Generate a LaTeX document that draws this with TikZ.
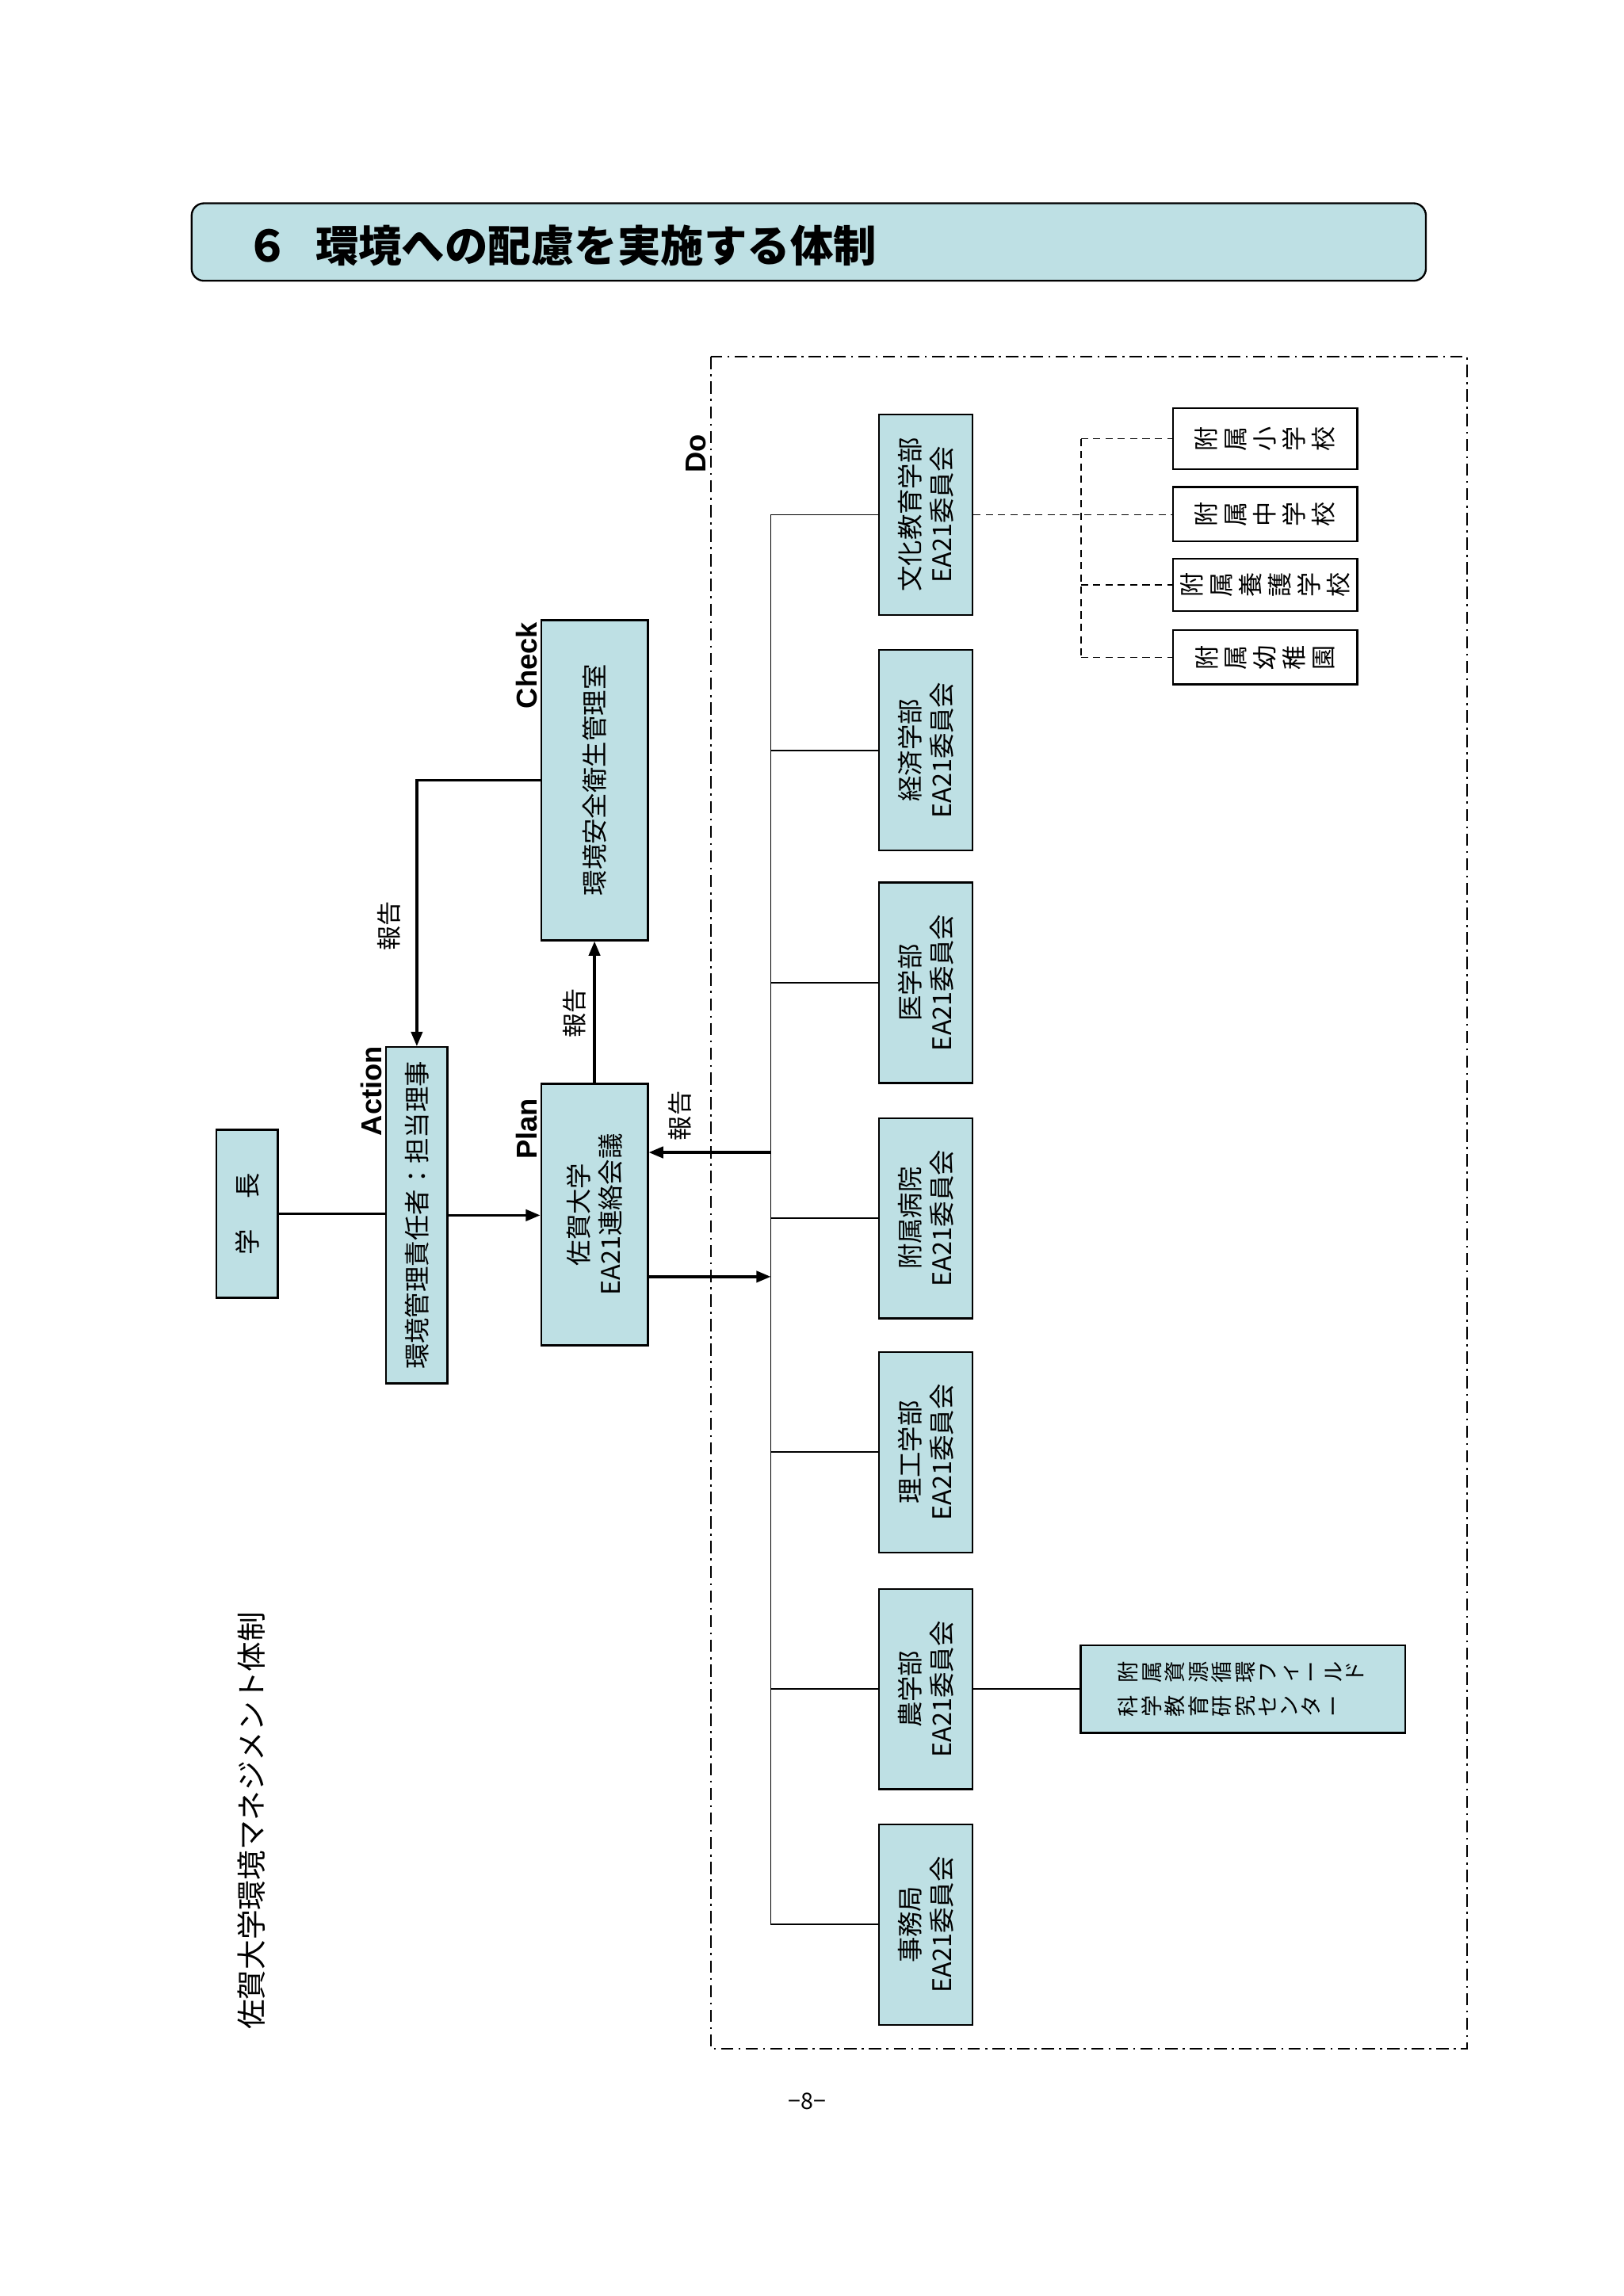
\documentclass[tikz,border=0pt]{standalone}
\usepackage{fontspec}
\setmainfont{Noto Sans CJK JP}
\newfontfamily\lat{Liberation Sans}
\usetikzlibrary{arrows.meta}
\definecolor{boxblue}{RGB}{190,224,228}
\begin{document}
\begin{tikzpicture}[x=0.05cm,y=-0.05cm,
  bx/.style={draw,line width=1.8pt,fill=boxblue,inner sep=0pt,align=center,rotate=90,font=\fontsize{25}{31}\selectfont},
  wb/.style={draw,line width=1.8pt,fill=white,inner sep=0pt,align=center,rotate=90,font=\fontsize{24}{28.5}\selectfont},
  tk/.style={line width=2.6pt},
  ar/.style={line width=2.6pt,-{Triangle[length=14pt,width=11pt]}},
  thin/.style={line width=1.4pt},
  dsh/.style={line width=1.4pt,dash pattern=on 7pt off 5pt},
  lbl/.style={rotate=90,font=\lat\bfseries\fontsize{28}{30}\selectfont},
  rep/.style={rotate=90,font=\fontsize{24}{26}\selectfont}]
\useasboundingbox (0,0) rectangle (1110,1570);
% title
\node[draw,line width=1.8pt,fill=boxblue,rounded corners=12pt,minimum width=42.2cm,minimum height=2.65cm] (title) at (553,165.5) {};
\node[anchor=west,font=\bfseries\fontsize{42}{46}\selectfont] (ttext) at (166,168) {６\hspace{0.6em}環境への配慮を実施する体制};
% Do frame
\draw[line width=1.2pt,dash pattern=on 12pt off 5pt on 2pt off 5pt] (486,244) rectangle (1003,1401);
\node[lbl] (do) at (476,310) {Do};
% main boxes
\node[bx,minimum width=5.75cm,minimum height=2.1cm] (gak) at (169,830) {学\hspace{1.2em}長};
\node[bx,minimum width=11.5cm,minimum height=2.1cm] (act) at (285,831) {環境管理責任者：担当理事};
\node[bx,minimum width=8.95cm,minimum height=3.65cm] (plan) at (406.5,830.5) {佐賀大学\\EA21連絡会議};
\node[bx,minimum width=10.95cm,minimum height=3.65cm] (chk) at (406.5,533.5) {環境安全衛生管理室};
\node[lbl] (lact) at (254,746) {Action};
\node[lbl] (lplan) at (360,772) {Plan};
\node[lbl] (lchk) at (360,455) {Check};
\node[rep] (r1) at (266,633) {報告};
\node[rep] (r2) at (393,693) {報告};
\node[rep] (r3) at (465,763) {報告};
% connectors
\draw[tk] (gak.south) -- (gak.south -| act.north);
\draw[ar] (act.south) -- (act.south -| plan.north);
\draw[ar] (chk.north) -| (act.east);
\draw[ar] (plan.east) -- (chk.west);
\coordinate (bIn) at (527,788);
\coordinate (bOut) at (527,873);
\draw[ar] (bIn) -- (bIn -| plan.south);
\draw[ar] (plan.south |- bOut) -- (bOut);
% committees
\coordinate (busTop) at (527,352);
\coordinate (busBot) at (527,1316);
\draw[thin] (busTop) -- (busBot);
\foreach \n/\y/\t in {c1/352/文化教育学部, c2/513/経済学部, c3/672/医学部, c4/833/附属病院, c5/993/理工学部, c6/1155/農学部, c7/1316/事務局}{
  \node[bx,minimum width=6.85cm,minimum height=3.2cm] (\n) at (633,\y) {\t\\EA21委員会};
  \draw[thin] (\n.north -| busTop) -- (\n.north);
}
% schools
\node[wb,minimum width=2.1cm,minimum height=6.3cm] (s1) at (865,300) {附\\属\\小\\学\\校};
\node[wb,minimum width=1.85cm,minimum height=6.3cm] (s2) at (865,351.5) {附\\属\\中\\学\\校};
\node[wb,minimum width=1.8cm,minimum height=6.3cm] (s3) at (865,400) {附\\属\\養\\護\\学\\校};
\node[wb,minimum width=1.85cm,minimum height=6.3cm] (s4) at (865,449.5) {附\\属\\幼\\稚\\園};
\coordinate (dTop) at (739,300);
\coordinate (dBot) at (739,449.5);
\draw[dsh] (c1.south) -- (c1.south -| s2.north);
\draw[dsh] (dTop) -- (dBot);
\draw[dsh] (dTop) -- (dTop -| s1.north);
\draw[dsh] (dBot) -- (dBot -| s4.north);
\coordinate (d3) at (739,400);
\draw[dsh] (d3) -- (d3 -| s3.north);
% farm centre
\node[bx,minimum width=3cm,minimum height=11.1cm,font=\fontsize{21}{24}\selectfont] (farm) at (850,1155)
 {\setlength{\tabcolsep}{0.22cm}\renewcommand{\arraystretch}{0.72}\begin{tabular}{cc}
 科&附\\学&属\\教&資\\育&源\\研&循\\究&環\\セ&フ\\ン&ィ\\タ&ー\\ー&ル\\&ド\end{tabular}};
\draw[thin] (c6.south) -- (farm.north);
% caption and page number
\node[rotate=90,font=\fontsize{29}{32}\selectfont] (cap) at (172,1245) {佐賀大学環境マネジメント体制};
\node[font=\fontsize{22}{24}\selectfont] (pg) at (552,1437) {−8−};
\end{tikzpicture}
\end{document}
